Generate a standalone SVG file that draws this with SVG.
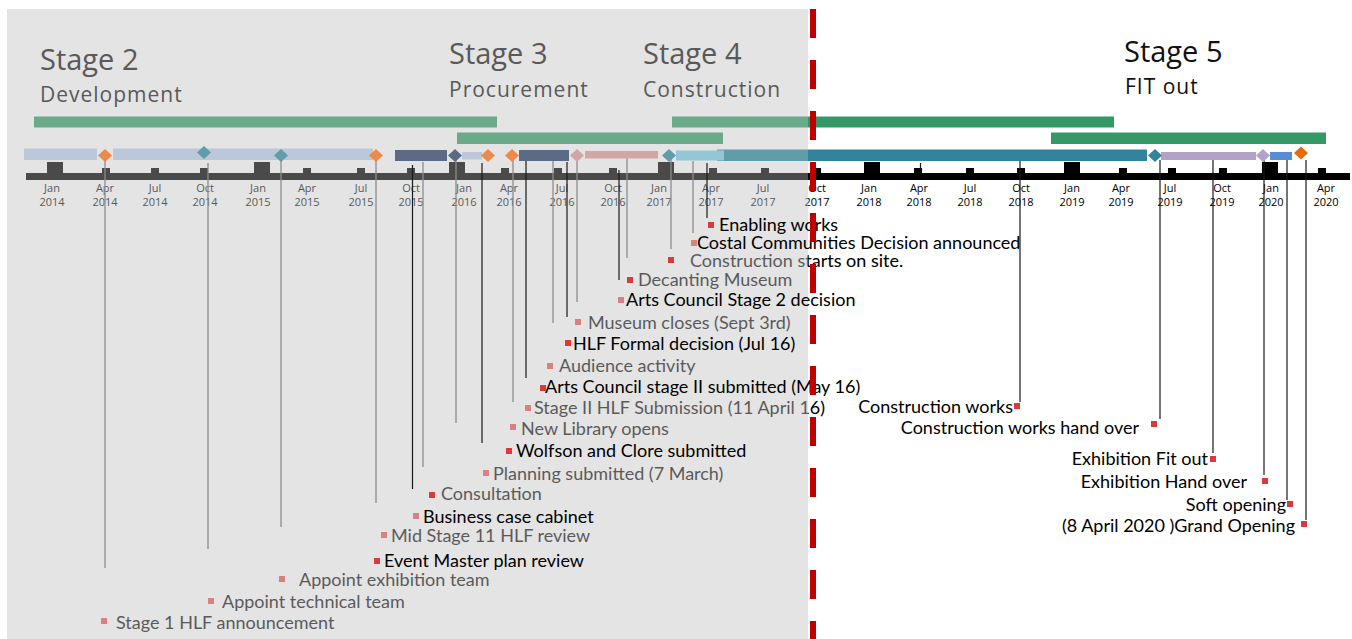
<svg xmlns="http://www.w3.org/2000/svg" width="1352" height="639" viewBox="0 0 1352 639">
<defs>
<linearGradient id="gText" gradientUnits="userSpaceOnUse" x1="0" y1="0" x2="1352" y2="0">
<stop offset="0.5976" stop-color="#595959"/><stop offset="0.5976" stop-color="#000000"/>
</linearGradient>
<linearGradient id="gAxis" gradientUnits="userSpaceOnUse" x1="0" y1="0" x2="1352" y2="0">
<stop offset="0.5976" stop-color="#4a4a4a"/><stop offset="0.5976" stop-color="#000000"/>
</linearGradient>
<linearGradient id="gGreen" gradientUnits="userSpaceOnUse" x1="0" y1="0" x2="1352" y2="0">
<stop offset="0.5976" stop-color="#6aaa8a"/><stop offset="0.5976" stop-color="#339966"/>
</linearGradient>
<linearGradient id="gTeal" gradientUnits="userSpaceOnUse" x1="0" y1="0" x2="1352" y2="0">
<stop offset="0.5976" stop-color="#5f9dab"/><stop offset="0.5976" stop-color="#31849b"/>
</linearGradient>
</defs>
<style>
.lbl{font-family:Lato,"Liberation Sans",sans-serif;font-size:18px}
.blk{fill:#000}
.gry{fill:url(#gText)}
.mr{fill:#dc3a3a}
.mp{fill:#d98080}
.tk{font-family:"Open Sans","Liberation Sans",sans-serif;font-size:11px;text-anchor:middle}
.tl{fill:#595959}
.tr{fill:#000}
.cg{stroke:#8c8c8c;stroke-width:1.3;fill:none}
.cb{stroke:#1a1a1a;stroke-width:1.2;fill:none}
.st{font-family:"Open Sans","Liberation Sans",sans-serif;font-size:29px;fill:#595959}
.sub{font-family:"Open Sans","Liberation Sans",sans-serif;font-size:21px;letter-spacing:1px;fill:#595959}
.jan{fill:url(#gAxis)}
.end{text-anchor:end}
</style>
<rect x="0" y="0" width="1352" height="639" fill="#ffffff"/>
<rect x="7" y="9" width="801" height="630" fill="#e4e4e4"/>

<g id="stage-headers">
<text class="st" x="40" y="70">Stage 2</text>
<text class="sub" x="40" y="102">Development</text>
<text class="st" x="449" y="64">Stage 3</text>
<text class="sub" x="449" y="97">Procurement</text>
<text class="st" x="643" y="64">Stage 4</text>
<text class="sub" x="643" y="97">Construction</text>
<text class="st" x="1124" y="62" style="fill:#111">Stage 5</text>
<text class="sub" x="1125" y="94" style="fill:#111">FIT out</text>
</g>

<g id="stage-bars">
<rect x="34" y="116.5" width="463" height="11" fill="#6aaa8a"/>
<rect x="672" y="116.5" width="442" height="11" fill="url(#gGreen)"/>
<rect x="457" y="132.5" width="266" height="11.5" fill="#6aaa8a"/>
<rect x="1051" y="132.5" width="275" height="11.5" fill="#339966"/>
</g>

<g id="axis">
<rect x="26" y="173" width="1324" height="7" fill="url(#gAxis)"/>
<g class="jan">
<rect x="47" y="162" width="16" height="12"/><rect x="102" y="168" width="8" height="6"/><rect x="151" y="168" width="8" height="6"/><rect x="200" y="168" width="8" height="6"/>
<rect x="254" y="162" width="16" height="12"/><rect x="303" y="168" width="8" height="6"/><rect x="357" y="168" width="8" height="6"/><rect x="407" y="168" width="8" height="6"/>
<rect x="449" y="162" width="16" height="12"/><rect x="501" y="168" width="8" height="6"/><rect x="554" y="168" width="8" height="6"/><rect x="609" y="168" width="8" height="6"/>
<rect x="658" y="162" width="16" height="12"/><rect x="709" y="168" width="8" height="6"/><rect x="761" y="168" width="8" height="6"/><rect x="813" y="168" width="8" height="6"/>
<rect x="864" y="162" width="16" height="12"/><rect x="914" y="168" width="8" height="6"/><rect x="966" y="168" width="8" height="6"/><rect x="1017" y="168" width="8" height="6"/>
<rect x="1064" y="162" width="16" height="12"/><rect x="1119" y="168" width="8" height="6"/><rect x="1168" y="168" width="8" height="6"/><rect x="1219" y="168" width="8" height="6"/>
<rect x="1262" y="162" width="16" height="12"/><rect x="1318" y="168" width="8" height="6"/>
</g>
<g class="tk">
<g class="tl">
<text x="52" y="191.5">Jan</text><text x="52" y="205.5">2014</text>
<text x="105" y="191.5">Apr</text><text x="105" y="205.5">2014</text>
<text x="155" y="191.5">Jul</text><text x="155" y="205.5">2014</text>
<text x="205" y="191.5">Oct</text><text x="205" y="205.5">2014</text>
<text x="258" y="191.5">Jan</text><text x="258" y="205.5">2015</text>
<text x="307" y="191.5">Apr</text><text x="307" y="205.5">2015</text>
<text x="361" y="191.5">Jul</text><text x="361" y="205.5">2015</text>
<text x="411" y="191.5">Oct</text><text x="411" y="205.5">2015</text>
<text x="464" y="191.5">Jan</text><text x="464" y="205.5">2016</text>
<text x="509" y="191.5">Apr</text><text x="509" y="205.5">2016</text>
<text x="562" y="191.5">Jul</text><text x="562" y="205.5">2016</text>
<text x="613" y="191.5">Oct</text><text x="613" y="205.5">2016</text>
<text x="659" y="191.5">Jan</text><text x="659" y="205.5">2017</text>
<text x="711" y="191.5">Apr</text><text x="711" y="205.5">2017</text>
<text x="763" y="191.5">Jul</text><text x="763" y="205.5">2017</text>
</g>
<text x="817" y="191.5" fill="url(#gText)">Oct</text><text x="817" y="205.5" fill="url(#gText)">2017</text>
<g class="tr">
<text x="869" y="191.5">Jan</text><text x="869" y="205.5">2018</text>
<text x="919" y="191.5">Apr</text><text x="919" y="205.5">2018</text>
<text x="970" y="191.5">Jul</text><text x="970" y="205.5">2018</text>
<text x="1021" y="191.5">Oct</text><text x="1021" y="205.5">2018</text>
<text x="1072" y="191.5">Jan</text><text x="1072" y="205.5">2019</text>
<text x="1121" y="191.5">Apr</text><text x="1121" y="205.5">2019</text>
<text x="1170" y="191.5">Jul</text><text x="1170" y="205.5">2019</text>
<text x="1222" y="191.5">Oct</text><text x="1222" y="205.5">2019</text>
<text x="1271" y="191.5">Jan</text><text x="1271" y="205.5">2020</text>
<text x="1326" y="191.5">Apr</text><text x="1326" y="205.5">2020</text>
</g>
</g>
</g>

<g id="connectors">
<line class="cg" x1="105" y1="160" x2="105" y2="568"/>
<line class="cg" x1="208" y1="163" x2="208" y2="549"/>
<line class="cg" x1="281" y1="156" x2="281" y2="527"/>
<line class="cg" x1="376" y1="156" x2="376" y2="503"/>
<line class="cb" x1="412.5" y1="165" x2="412.5" y2="489"/>
<line class="cg" x1="423" y1="162" x2="423" y2="467"/>
<line class="cg" x1="456" y1="160" x2="456" y2="423"/>
<line class="cb" x1="482" y1="163" x2="482" y2="443"/>
<line class="cg" x1="513" y1="156" x2="513" y2="402"/>
<line class="cb" x1="526" y1="161" x2="526" y2="378"/>
<line class="cg" x1="553" y1="158" x2="553" y2="323"/>
<line class="cb" x1="567" y1="162" x2="567" y2="317"/>
<line class="cg" x1="577" y1="156" x2="577" y2="302"/>
<line class="cb" x1="619" y1="170" x2="619" y2="280"/>
<line class="cg" x1="627" y1="156" x2="627" y2="258"/>
<line class="cg" x1="671" y1="156" x2="671" y2="249"/>
<line class="cg" x1="693" y1="161" x2="693" y2="233"/>
<line class="cb" x1="707" y1="163" x2="707" y2="218"/>
<line class="cb" x1="920.5" y1="163" x2="920.5" y2="170"/>
<line class="cb" x1="1020" y1="160" x2="1020" y2="402"/>
<line class="cb" x1="1160" y1="160" x2="1160" y2="419"/>
<line class="cb" x1="1213" y1="160" x2="1213" y2="453"/>
<line class="cb" x1="1264" y1="160" x2="1264" y2="475"/>
<line class="cb" x1="1287" y1="160" x2="1287" y2="500"/>
<line class="cb" x1="1306" y1="160" x2="1306" y2="520"/>
</g>

<g id="task-bars">
<rect x="24" y="148.5" width="73" height="11.5" fill="#bcc8d9"/>
<rect x="113" y="148.5" width="260" height="11.5" fill="#bcc8d9"/>
<rect x="395" y="150" width="52" height="11" fill="#5c6b85"/>
<rect x="462" y="152" width="20" height="7.5" fill="#bcc8d9"/>
<rect x="519" y="150" width="50" height="11" fill="#5c6b85"/>
<rect x="585" y="151" width="73" height="7.5" fill="#d4a5a5"/>
<rect x="717" y="149.5" width="430" height="11.5" fill="url(#gTeal)"/>
<rect x="676" y="150.5" width="48" height="10" fill="#93c7d8"/>
<rect x="1161" y="152" width="95" height="8" fill="#b3a2c7"/>
<rect x="1270" y="152" width="22" height="8" fill="#558ed5"/>
<polygon points="105,149 112,155.5 105,162 98,155.5" fill="#ec8a4a"/>
<polygon points="204,146 211,152.5 204,159 197,152.5" fill="#5f9dab"/>
<polygon points="281,149 288,155.5 281,162 274,155.5" fill="#5f9dab"/>
<polygon points="376,149 383,155.5 376,162 369,155.5" fill="#ec8a4a"/>
<polygon points="455,149 462,155.5 455,162 448,155.5" fill="#5c6b85"/>
<polygon points="488,149 495,155.5 488,162 481,155.5" fill="#ec8a4a"/>
<polygon points="512,149 519,155.5 512,162 505,155.5" fill="#ec8a4a"/>
<polygon points="577,149 584,155.5 577,162 570,155.5" fill="#d4a5a5"/>
<polygon points="669,149 676,155.5 669,162 662,155.5" fill="#5f9dab"/>
<polygon points="1155,149 1162,155.5 1155,162 1148,155.5" fill="#31849b"/>
<polygon points="1263,149 1270,155.5 1263,162 1256,155.5" fill="#b3a2c7"/>
<polygon points="1301,146.5 1308,153 1301,159.5 1294,153" fill="#e46c0a"/>
</g>

<g class="lbl">
<g id="n-enabling-works"><rect class="mr" x="708" y="222" width="6" height="6"/><text class="blk" x="719" y="231">Enabling works</text></g>
<g id="n-costal-communities"><rect class="mp" x="691" y="240" width="6" height="6"/><text class="blk" x="697" y="249">Costal Communities Decision announced</text></g>
<g id="n-construction-starts"><rect class="mr" x="668" y="257" width="6" height="6"/><text class="gry" x="690" y="267">Construction starts on site.</text></g>
<g id="n-decanting"><rect class="mr" x="627" y="277" width="6" height="6"/><text class="gry" x="638" y="286">Decanting Museum</text></g>
<g id="n-ac-stage2-decision"><rect class="mp" x="618" y="297" width="6" height="6"/><text class="blk" x="626" y="306">Arts Council Stage 2 decision</text></g>
<g id="n-museum-closes"><rect class="mp" x="575" y="319" width="6" height="6"/><text class="gry" x="588" y="329">Museum closes (Sept 3rd)</text></g>
<g id="n-hlf-formal"><rect class="mr" x="565" y="340" width="6" height="6"/><text class="blk" x="573" y="350">HLF Formal decision (Jul 16)</text></g>
<g id="n-audience"><rect class="mp" x="547" y="363" width="6" height="6"/><text class="gry" x="559" y="372">Audience activity</text></g>
<g id="n-ac-stage2-submitted"><rect class="mr" x="540" y="385" width="6" height="6"/><text class="blk" x="545" y="393">Arts Council stage II submitted (May 16)</text></g>
<g id="n-hlf-submission"><rect class="mp" x="525" y="405" width="6" height="6"/><text class="gry" x="534" y="414">Stage II HLF Submission (11 April 16)</text></g>
<g id="n-new-library"><rect class="mp" x="510" y="424" width="6" height="6"/><text class="gry" x="521" y="435">New Library opens</text></g>
<g id="n-wolfson"><rect class="mr" x="506" y="448" width="6" height="6"/><text class="blk" x="516" y="457">Wolfson and Clore submitted</text></g>
<g id="n-planning"><rect class="mp" x="483" y="470" width="6" height="6"/><text class="gry" x="493" y="480">Planning submitted (7 March)</text></g>
<g id="n-consultation"><rect class="mr" x="429" y="492" width="6" height="6"/><text class="gry" x="441" y="500">Consultation</text></g>
<g id="n-business-case"><rect class="mp" x="413" y="513" width="6" height="6"/><text class="blk" x="423" y="523">Business case cabinet</text></g>
<g id="n-mid-stage"><rect class="mp" x="381" y="532" width="6" height="6"/><text class="gry" x="391" y="542">Mid Stage 11 HLF review</text></g>
<g id="n-event-master"><rect class="mr" x="374" y="558" width="6" height="6"/><text class="blk" x="384" y="567">Event Master plan review</text></g>
<g id="n-appoint-exhibition"><rect class="mp" x="279" y="576" width="6" height="6"/><text class="gry" x="299" y="586">Appoint exhibition team</text></g>
<g id="n-appoint-technical"><rect class="mp" x="208" y="598" width="6" height="6"/><text class="gry" x="222" y="608">Appoint technical team</text></g>
<g id="n-stage1-hlf"><rect class="mp" x="101" y="618" width="6" height="6"/><text class="gry" x="116" y="629">Stage 1 HLF announcement</text></g>
<g id="n-construction-works"><rect class="mr" x="1014" y="403" width="6" height="6"/><text class="blk end" x="1013" y="413">Construction works</text></g>
<g id="n-construction-handover"><rect class="mr" x="1151" y="421" width="6" height="6"/><text class="blk end" x="1139" y="434">Construction works hand over</text></g>
<g id="n-exhibition-fitout"><rect class="mr" x="1210" y="456" width="6" height="6"/><text class="blk end" x="1208" y="465">Exhibition Fit out</text></g>
<g id="n-exhibition-handover"><rect class="mr" x="1262" y="478" width="6" height="6"/><text class="blk end" x="1247" y="488">Exhibition Hand over</text></g>
<g id="n-soft-opening"><rect class="mr" x="1287" y="501" width="6" height="6"/><text class="blk end" x="1286" y="511">Soft opening</text></g>
<g id="n-grand-opening"><rect class="mr" x="1301" y="521" width="6" height="6"/><text class="blk end" x="1295" y="532">(8 April 2020 )Grand Opening</text></g>
</g>

<line id="today-line" x1="813" y1="9" x2="813" y2="639" stroke="#c00000" stroke-width="6" stroke-dasharray="29 22"/>
</svg>
